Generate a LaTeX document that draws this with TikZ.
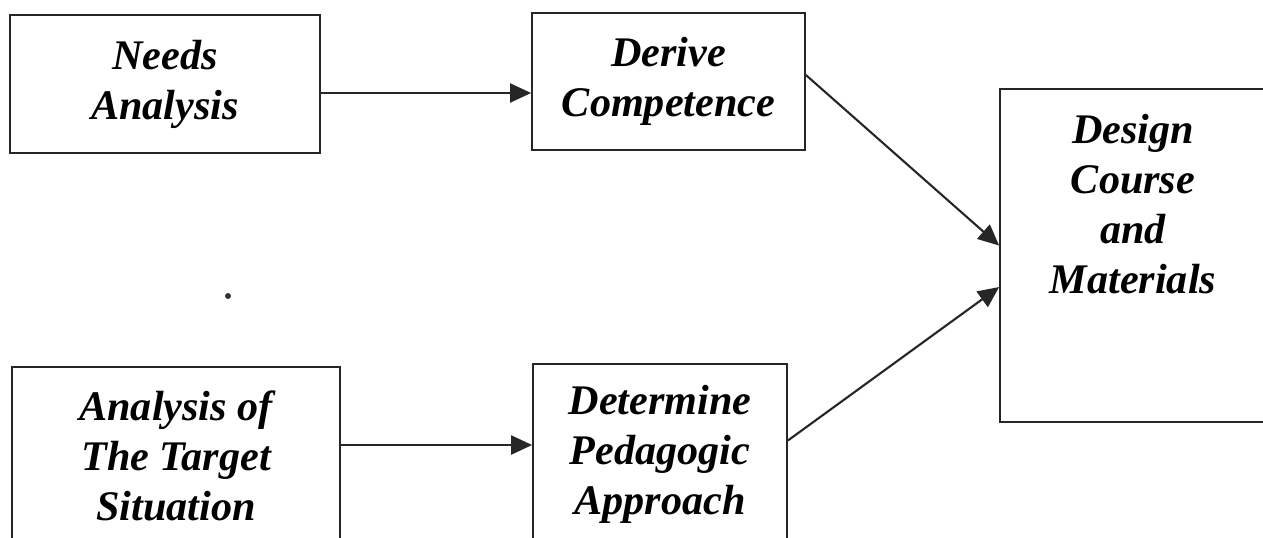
\documentclass[tikz,border=0pt]{standalone}
\usepackage{fontspec}
\setmainfont{Liberation Serif}
\usetikzlibrary{arrows.meta,positioning}

\begin{document}
\begin{tikzpicture}[
    x=0.2mm, y=-0.2mm,
    font=\fontsize{24}{28.5}\selectfont\bfseries\itshape,
    flow/.style={draw=black!85, line width=1.2pt, -{Triangle[length=4.2mm, width=3.8mm]}},
    block/.style={
        draw=black!85,
        line width=1pt,
        fill=white,
        align=center,
        inner sep=0pt
    }
]

\clip (0,0) rectangle (1263,537);

\node[block, minimum width=62mm, minimum height=27.6mm] (needs) at (165,84)
{Needs\\Analysis};

\node[block, minimum width=54.6mm, minimum height=27.4mm] (derive) at (668.5,81.5)
{Derive\\Competence};

\node[block, minimum width=53.2mm, minimum height=66.6mm] (design) at (1133,255.5) {};
\node[align=center, inner sep=0pt] (designtext) at (1133,204)
{Design\\Course\\and\\Materials};

\node[block, minimum width=65.6mm, minimum height=35.6mm] (target) at (176,456)
{Analysis of\\The Target\\Situation};

\node[block, minimum width=50.8mm, minimum height=36.2mm] (approach) at (660,454.5)
{Determine\\Pedagogic\\Approach};

\fill[black!80] (228,296) circle (3);

\draw[flow] ([yshift=-1.8mm]needs.east) -- ([yshift=-1.8mm]needs.east -| derive.west);
\draw[flow] ([yshift=2.2mm]target.east) -- ([yshift=2.2mm]target.east -| approach.west);
\draw[flow] ([yshift=1.3mm]derive.east) -- ([yshift=2mm]design.west);
\draw[flow] ([yshift=2.8mm]approach.east) -- ([yshift=-6.3mm]design.west);

\end{tikzpicture}
\end{document}
